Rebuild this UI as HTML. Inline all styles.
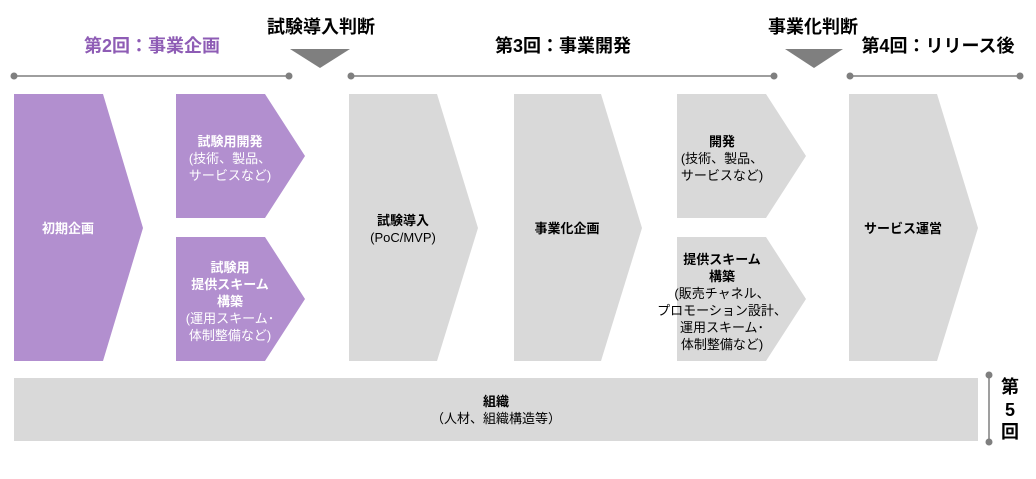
<!DOCTYPE html>
<html><head><meta charset="utf-8"><style>
body{margin:0;background:#fff;width:1036px;height:479px;overflow:hidden}
svg{display:block}
text{font-family:"Liberation Sans","Noto Sans CJK JP",sans-serif;text-anchor:middle}
.w{fill:#fff;font-size:13px}
.k{fill:#000;font-size:13px}
.b{font-weight:bold}
.h{font-size:18px;font-weight:bold}
</style></head><body>
<svg width="1036" height="479" viewBox="0 0 1036 479">
<g fill="#7f7f7f">
<line x1="14" y1="76" x2="290" y2="76" stroke="#7f7f7f" stroke-width="1.5"/>
<circle cx="14" cy="76" r="3.5"/><circle cx="289" cy="76" r="3.5"/>
<line x1="351" y1="76" x2="774" y2="76" stroke="#7f7f7f" stroke-width="1.5"/>
<circle cx="351" cy="76" r="3.5"/><circle cx="774" cy="76" r="3.5"/>
<line x1="850" y1="76" x2="1020" y2="76" stroke="#7f7f7f" stroke-width="1.5"/>
<circle cx="850" cy="76" r="3.5"/><circle cx="1020" cy="76" r="3.5"/>
<polygon points="290,49 350,49 320,68"/>
<polygon points="785,49 843,49 814,68"/>
<line x1="989" y1="375" x2="989" y2="442" stroke="#7f7f7f" stroke-width="1.5"/>
<circle cx="989" cy="375" r="3.5"/><circle cx="989" cy="442" r="3.5"/>
</g>
<text x="152" y="52" class="h" fill="#8e5cb5">第2回：事業企画</text>
<text x="321" y="33" class="h" fill="#000">試験導入判断</text>
<text x="563" y="52" class="h" fill="#000">第3回：事業開発</text>
<text x="813" y="33" class="h" fill="#000">事業化判断</text>
<text x="938" y="52" class="h" fill="#000">第4回：リリース後</text>
<text x="1010" y="393" class="h" fill="#000">第</text>
<text x="1010" y="416" class="h" fill="#000">5</text>
<text x="1010" y="438" class="h" fill="#000">回</text>

<g fill="#b28fcf">
<polygon points="14,94 103,94 143,228 103,361 14,361"/>
<polygon points="176,94 265,94 305,156 265,218 176,218"/>
<polygon points="176,237 265,237 305,299 265,361 176,361"/>
</g>
<g fill="#d9d9d9">
<polygon points="349,94 437,94 478,228 437,361 349,361"/>
<polygon points="514,94 601,94 642,228 601,361 514,361"/>
<polygon points="677,94 766,94 806,156 766,218 677,218"/>
<polygon points="677,237 766,237 806,299 766,361 677,361"/>
<polygon points="849,94 937,94 978,228 937,361 849,361"/>
<rect x="14" y="378" width="964" height="63"/>
</g>

<text x="68" y="233" class="w b">初期企画</text>
<text x="230" y="146" class="w b">試験用開発</text>
<text x="230" y="163" class="w">(技術、製品、</text>
<text x="230" y="180" class="w">サービスなど)</text>
<text x="230" y="272" class="w b">試験用</text>
<text x="230" y="289" class="w b">提供スキーム</text>
<text x="230" y="306" class="w b">構築</text>
<text x="230" y="323" class="w">(運用スキーム･</text>
<text x="230" y="340" class="w">体制整備など)</text>

<text x="403" y="225" class="k b">試験導入</text>
<text x="403" y="242" class="k">(PoC/MVP)</text>
<text x="567" y="233" class="k b">事業化企画</text>
<text x="722" y="146" class="k b">開発</text>
<text x="722" y="163" class="k">(技術、製品、</text>
<text x="722" y="180" class="k">サービスなど)</text>
<text x="722" y="264" class="k b">提供スキーム</text>
<text x="722" y="281" class="k b">構築</text>
<text x="722" y="298" class="k">(販売チャネル、</text>
<text x="722" y="315" class="k">プロモーション設計、</text>
<text x="722" y="332" class="k">運用スキーム･</text>
<text x="722" y="349" class="k">体制整備など)</text>
<text x="903" y="233" class="k b">サービス運営</text>
<text x="496" y="406" class="k b">組織</text>
<text x="496" y="423" class="k">（人材、組織構造等）</text>
</svg>
</body></html>
